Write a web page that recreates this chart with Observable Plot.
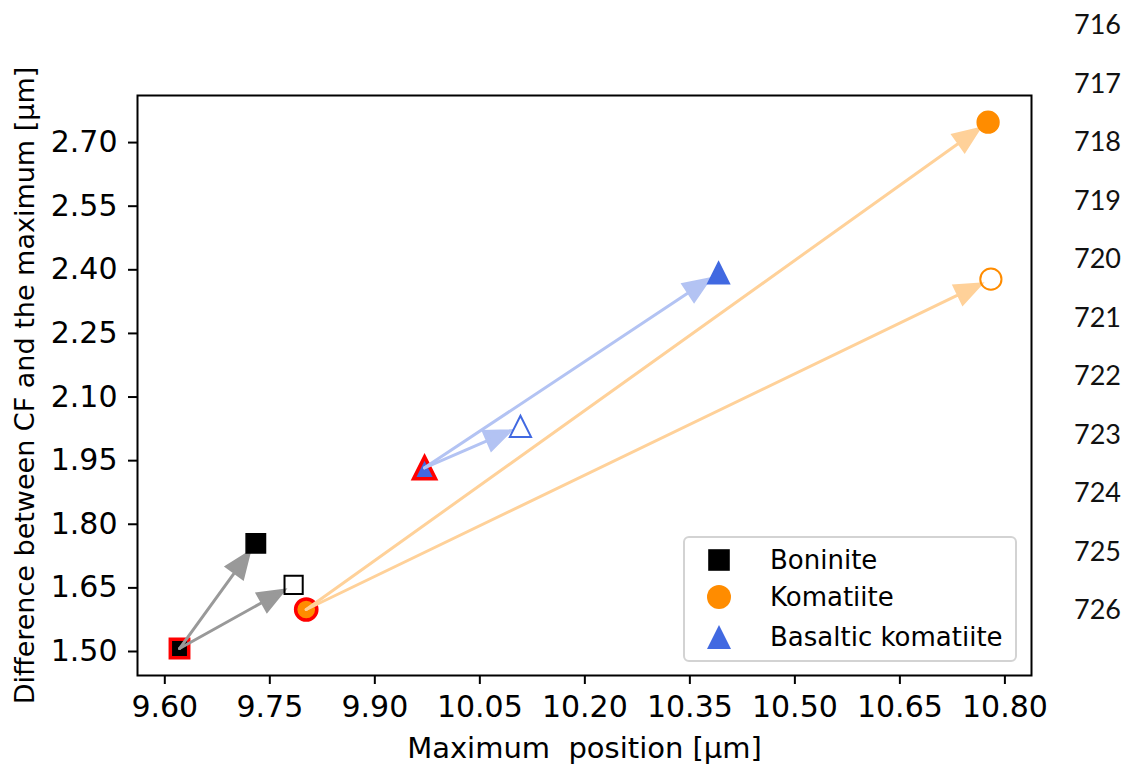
<!DOCTYPE html>
<html>
<head>
<meta charset="utf-8">
<script src="https://cdn.jsdelivr.net/npm/d3@7"></script>
<script src="https://cdn.jsdelivr.net/npm/@observablehq/plot@0.6"></script>
<style>
  body { margin: 0; background: #fff; }
  #wrap { position: relative; width: 1127px; height: 765px; overflow: hidden; }
  svg text { white-space: pre; }
  #legend { position: absolute; left: 683px; top: 536px; width: 330px; height: 122px;
    border: 2px solid #d3d3d3; border-radius: 6px; background: rgba(255,255,255,0.8);
    font-family: "DejaVu Sans"; font-size: 26px; color: #000; }
  .lrow { position: absolute; left: 0; height: 36px; width: 100%; }
  .lrow svg { position: absolute; left: 21px; top: 5px; }
  .lrow span { position: absolute; left: 85px; top: 0; line-height: 36px; }
  #lines { position: absolute; left: 1074px; top: 0; font-family: Lato, "Liberation Sans", sans-serif; font-size: 27px; color: #111; }
  #lines div { position: absolute; left: 0; line-height: 30px; }
</style>
</head>
<body>
<div id="wrap"></div>
<script>
// ---- data ----
const categories = ["Boninite", "Komatiite", "Basaltic komatiite"];
const startX  = [9.621, 9.802, 9.971];
const startY  = [1.507, 1.599, 1.933];
const filledX = [9.730, 10.776, 10.391];
const filledY = [1.755, 2.748, 2.393];
const openX   = [9.784, 10.780, 10.108];
const openY   = [1.657, 2.378, 2.031];
const xTicks = [9.60, 9.75, 9.90, 10.05, 10.20, 10.35, 10.50, 10.65, 10.80];
const yTicks = [1.50, 1.65, 1.80, 1.95, 2.10, 2.25, 2.40, 2.55, 2.70];
const lineNumbers = ["716","717","718","719","720","721","722","723","724","725","726"];
const xLabel = "Maximum  position [µm]";
const yLabel = "Difference between CF and the maximum [µm]";

// ---- style ----
const colors = ["black", "darkorange", "royalblue"];
const edgeColor = "#ff0000";
const W = 1127, H = 765, ML = 137, MR = 96, MT = 95, MB = 90;
const xDomain = [9.561, 10.838];
const yDomain = [1.4434, 2.811];

const squareSym = { draw(ctx, size) { const h = Math.sqrt(size / Math.PI); ctx.rect(-h, -h, 2 * h, 2 * h); } };
const triSym = { draw(ctx, size) { const h = Math.sqrt(size / Math.PI); ctx.moveTo(0, -h); ctx.lineTo(h, h); ctx.lineTo(-h, h); ctx.closePath(); } };
const symbols = [squareSym, "circle", triSym];
const sizes = { start: [9.2, 10.6, 11.0], filled: [9.7, 10.9, 10.9], open: [9.1, 10.6, 10.6] };

const headLen = 25, headHalf = 10;
const arrowShape = { draw(ctx, l) {
  ctx.moveTo(0, 0); ctx.lineTo(0, -(l - headLen + 2));
  ctx.moveTo(0, -l); ctx.lineTo(-headHalf, -l + headLen); ctx.lineTo(headHalf, -l + headLen); ctx.closePath();
} };

const sx = d3.scaleLinear(xDomain, [ML, W - MR]);
const sy = d3.scaleLinear(yDomain, [H - MB, MT]);
const inset = 11;

const marks = [];
// start markers
categories.forEach((c, i) => {
  marks.push(Plot.dot([{x: startX[i], y: startY[i]}], {x: "x", y: "y", r: sizes.start[i], symbol: symbols[i],
    fill: colors[i], stroke: edgeColor, strokeWidth: 3.5}));
});
// arrows
categories.forEach((c, i) => {
  const col = d3.interpolateRgb(colors[i], "white")(0.6);
  [[filledX[i], filledY[i]], [openX[i], openY[i]]].forEach(([x2, y2]) => {
    const dx = sx(x2) - sx(startX[i]), dy = sy(y2) - sy(startY[i]);
    const len = Math.hypot(dx, dy) - inset;
    const rot = Math.atan2(dx, -dy) * 180 / Math.PI;
    marks.push(Plot.vector([{x: startX[i], y: startY[i]}], {x: "x", y: "y", length: len, rotate: rot,
      anchor: "start", shape: arrowShape, stroke: col, fill: col, strokeWidth: 3, strokeLinejoin: "miter"}));
  });
});
// end markers
categories.forEach((c, i) => {
  marks.push(Plot.dot([{x: filledX[i], y: filledY[i]}], {x: "x", y: "y", r: sizes.filled[i], symbol: symbols[i],
    fill: colors[i], stroke: colors[i], strokeWidth: 1.5}));
  marks.push(Plot.dot([{x: openX[i], y: openY[i]}], {x: "x", y: "y", r: sizes.open[i], symbol: symbols[i],
    fill: "none", stroke: colors[i], strokeWidth: 2}));
});

marks.push(Plot.frame({stroke: "black", strokeWidth: 2}));
marks.push(Plot.axisX({ticks: xTicks, tickFormat: d3.format(".2f"), tickSize: 9, tickPadding: 11, fontSize: 30, strokeWidth: 2, label: null}));
marks.push(Plot.axisY({ticks: yTicks, tickFormat: d3.format(".2f"), tickSize: 9, tickPadding: 11, fontSize: 30, strokeWidth: 2, label: null}));
marks.push(Plot.text([xLabel], {text: d => d, frameAnchor: "bottom", dy: 82, lineAnchor: "bottom", fontSize: 29}));
marks.push(Plot.text([yLabel], {text: d => d, frameAnchor: "left", textAnchor: "middle", rotate: -90, dx: -104, lineAnchor: "bottom", fontSize: 27}));

const chart = Plot.plot({
  width: W, height: H,
  marginLeft: ML, marginRight: MR, marginTop: MT, marginBottom: MB,
  x: {domain: xDomain},
  y: {domain: yDomain},
  style: {fontFamily: "DejaVu Sans", background: "white", color: "black", overflow: "visible"},
  marks
});
const wrap = document.getElementById("wrap");
wrap.appendChild(chart);

// legend
const legend = document.createElement("div");
legend.id = "legend";
const rowTops = [4, 41, 81];
categories.forEach((c, i) => {
  const row = document.createElement("div");
  row.className = "lrow";
  row.style.top = rowTops[i] + "px";
  const s = d3.create("svg").attr("width", 26).attr("height", 26).attr("viewBox", "-13 -13 26 26");
  const p = d3.path();
  const sym = [squareSym, d3.symbolCircle, triSym][i];
  const rr = [10.8, 12, 12][i];
  sym.draw(p, Math.PI * rr * rr);
  s.append("path").attr("d", p.toString()).attr("fill", colors[i]);
  row.appendChild(s.node());
  const t = document.createElement("span");
  t.textContent = c;
  row.appendChild(t);
  legend.appendChild(row);
});
wrap.appendChild(legend);

// line numbers on the right margin
const ln = document.createElement("div");
ln.id = "lines";
lineNumbers.forEach((n, i) => {
  const d = document.createElement("div");
  d.textContent = n;
  d.style.top = (24 + 58.5 * i - 15) + "px";
  ln.appendChild(d);
});
wrap.appendChild(ln);
</script>
</body>
</html>
